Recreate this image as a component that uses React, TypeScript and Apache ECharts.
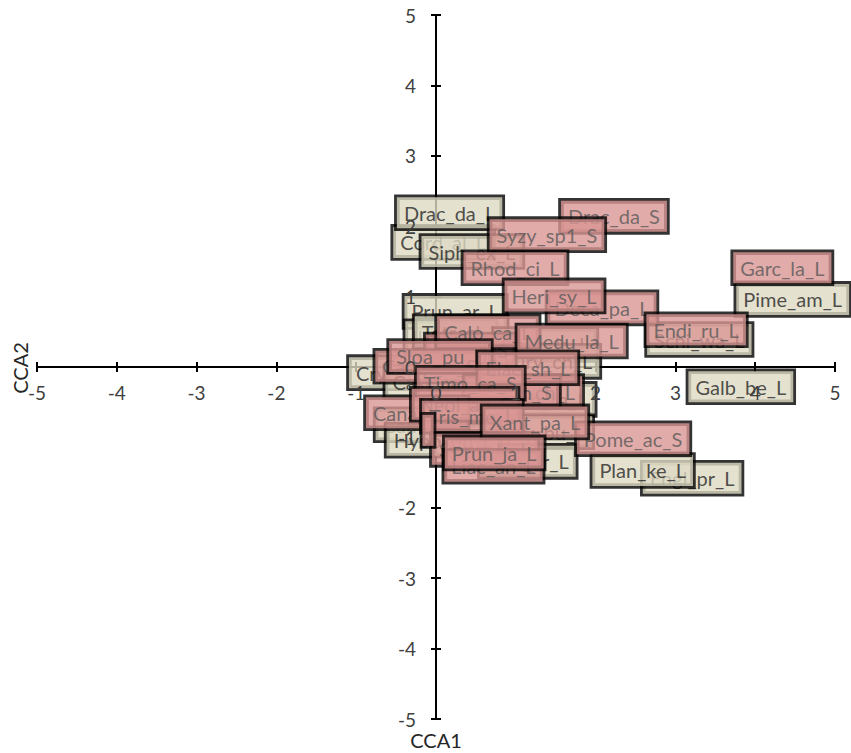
import React, { useEffect, useRef } from "react";
import * as echarts from "echarts";

// Beige labelled points (drawn first, bottom-most first)
const beigeNames = [
  "Cord_al_L", "Drac_da_L", "Siph_ex_L", "Prun_ar_L", "Ilex_cr_L", "Tetr_gl_L",
  "Cryp_ch_L", "Cast_ca_L", "Euon_la_L", "Eury_ch_L", "Mach_th_L", "Syzy_bu_L",
  "Ardi_cr_L", "Camp_ci_L", "Hypo_ob_L", "Pime_am_L", "Schi_wa_L", "Galb_be_L",
  "Engl_pr_L", "Plan_ke_L",
];
const beigeX = [0.09, 0.17, 0.45, 0.24, 0.18, 0.31, -0.43, 0.0, 1.37, 1.40, 1.30, 1.30, 1.15, -0.08, 0.09, 4.47, 3.30, 3.82, 3.21, 2.59];
const beigeY = [1.77, 2.19, 1.64, 0.79, 0.43, 0.50, -0.08, -0.21, 0.32, 0.08, -0.46, -0.92, -1.34, -0.82, -1.04, 0.96, 0.39, -0.28, -1.58, -1.47];

// Pink labelled points (drawn on top)
const pinkNames = [
  "Drac_da_S", "Syzy_sp1_S", "Rhod_ci_L", "Deca_pa_L", "Heri_sy_L", "Garc_la_L",
  "Endi_ru_L", "Ilex_vi_S", "Calo_ca_L", "Medu_la_L", "Camp_ci_S", "Sloa_pu_L",
  "Lind_ch_L", "Styr_in_S", "Elae_sh_L", "Timo_ca_S", "Cana_al_L", "Neol_au_S",
  "Tris_me_L", "Symp_la_L", " ", "Pome_ac_S", "Xant_pa_L", "Liac_an_L", "Prun_ja_L",
];
const pinkX = [2.23, 1.39, 0.99, 2.08, 1.48, 4.34, 3.26, 0.43, 0.65, 1.70, -0.08, 0.05, 1.20, 0.95, 1.15, 0.43, -0.24, 0.36, 0.45, 0.61, -0.10, 2.47, 1.24, 0.72, 0.73];
const pinkY = [2.14, 1.88, 1.41, 0.84, 1.01, 1.41, 0.53, 0.24, 0.50, 0.37, 0.01, 0.15, -0.35, -0.35, -0.01, -0.23, -0.65, -0.53, -0.70, -1.17, -0.90, -1.02, -0.78, -1.41, -1.22];

const axisMin = -5;
const axisMax = 5;
const axisStep = 1;
const xTitle = "CCA1";
const yTitle = "CCA2";

const FONT = "Lato";

function labelSeries(names: string[], xs: number[], ys: number[], bg: string, fg: string) {
  return {
    type: "scatter",
    xAxisIndex: 0,
    yAxisIndex: 0,
    symbolSize: 1,
    silent: true,
    itemStyle: { color: "rgba(0,0,0,0)" },
    emphasis: { disabled: true },
    data: names.map((n, i) =>
      n.trim() === ""
        ? { value: [xs[i], ys[i], n], label: { padding: [5, 3, 4, 3] } }
        : { value: [xs[i], ys[i], n] }
    ),
    label: {
      show: true,
      position: "inside",
      formatter: (p: any) => p.value[2],
      fontFamily: FONT,
      fontSize: 20,
      lineHeight: 22,
      color: fg,
      backgroundColor: bg,
      borderColor: "#000",
      borderWidth: 2.8,
      padding: [5, 7, 4, 7],
    },
  };
}

function baseAxis(extra: any) {
  return {
    type: "value",
    min: axisMin,
    max: axisMax,
    interval: axisStep,
    splitLine: { show: false },
    ...extra,
  };
}

// grid geometry (pixels)
const G_LEFT = 37;
const G_RIGHT = 16;
const G_TOP = 15;
const G_BOTTOM = 34;
const W = 851;
const H = 753;

export default function App() {
  const ref = useRef<HTMLDivElement>(null);
  useEffect(() => {
    if (!ref.current) return;
    const chart = echarts.init(ref.current, undefined, { renderer: "svg" });
    const lineStyle = { color: "#000", width: 2 };
    const labelStyle = { fontFamily: FONT, fontSize: 19, color: "#404040" };
    const plotW = W - G_LEFT - G_RIGHT;
    const plotH = H - G_TOP - G_BOTTOM;
    // offsets to bring label-only axes to the zero lines
    const xZeroOffset = -plotH * ((0 - axisMin) / (axisMax - axisMin));
    const yZeroOffset = -plotW * ((0 - axisMin) / (axisMax - axisMin));
    chart.setOption({
      animation: false,
      backgroundColor: "#fff",
      grid: { left: G_LEFT, right: G_RIGHT, top: G_TOP, bottom: G_BOTTOM, outerBoundsMode: "none" },
      xAxis: [
        baseAxis({
          position: "bottom",
          axisLine: { onZero: true, onZeroAxisIndex: 0, lineStyle },
          axisTick: { show: true, length: 5, lineStyle },
          axisLabel: { show: false },
        }),
        baseAxis({
          position: "bottom",
          axisLine: { show: true, onZero: true, onZeroAxisIndex: 0, lineStyle },
          axisTick: { show: true, inside: true, length: 5, lineStyle },
          axisLabel: { show: false },
        }),
        baseAxis({
          position: "bottom",
          offset: xZeroOffset,
          z: 10,
          axisLine: { show: false, onZero: false },
          axisTick: { show: false },
          axisLabel: { show: true, margin: 16, ...labelStyle },
        }),
      ],
      yAxis: [
        baseAxis({
          position: "left",
          axisLine: { onZero: true, onZeroAxisIndex: 0, lineStyle },
          axisTick: { show: true, length: 5, lineStyle },
          axisLabel: { show: false },
        }),
        baseAxis({
          position: "left",
          axisLine: { show: true, onZero: true, onZeroAxisIndex: 0, lineStyle },
          axisTick: { show: true, inside: true, length: 5, lineStyle },
          axisLabel: { show: false },
        }),
        baseAxis({
          position: "left",
          offset: yZeroOffset,
          z: 10,
          axisLine: { show: false, onZero: false },
          axisTick: { show: false },
          axisLabel: { show: true, margin: 20, ...labelStyle },
        }),
      ],
      series: [
        labelSeries(beigeNames, beigeX, beigeY, "#DDD9C3", "#262626"),
        labelSeries(pinkNames, pinkX, pinkY, "#D99694", "#595959"),
      ],
      graphic: [
        {
          type: "text",
          x: 436,
          y: 740,
          style: {
            text: xTitle,
            fontFamily: FONT,
            fontSize: 20,
            fill: "#262626",
            textAlign: "center",
            textVerticalAlign: "middle",
          },
        },
        {
          type: "text",
          x: 20,
          y: 368,
          rotation: Math.PI / 2,
          style: {
            text: yTitle,
            fontFamily: FONT,
            fontSize: 20,
            fill: "#262626",
            textAlign: "center",
            textVerticalAlign: "middle",
          },
        },
      ],
    });
    return () => chart.dispose();
  }, []);
  return (
    <div
      ref={ref}
      style={{ position: "fixed", left: 0, top: 0, width: W, height: H }}
    />
  );
}
